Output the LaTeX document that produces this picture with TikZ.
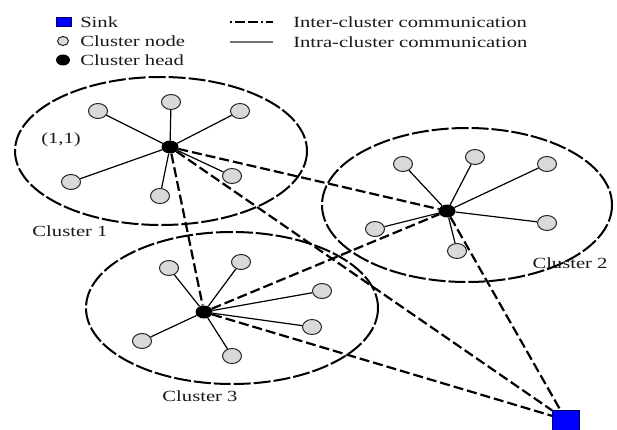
\documentclass[tikz,border=0pt]{standalone}
\usepackage{fontspec}
\setmainfont{Liberation Serif}
\usetikzlibrary{shapes.geometric}
\begin{document}
\begin{tikzpicture}[x=1pt, y=-1pt,
  every node/.style={font=\fontsize{15.5}{18}\selectfont},
  txt/.style={xscale=1.33, inner sep=0, text=black!90},
  member/.style={ellipse, draw=black!85, fill=black!15, line width=1pt, minimum width=19, minimum height=15, inner sep=0},
  head/.style={ellipse, fill=black, minimum width=17, minimum height=13, inner sep=0},
  sink/.style={rectangle, fill=blue, draw=blue!40!black, line width=0.8pt, minimum width=27, minimum height=20, inner sep=0},
  intra/.style={line width=1.2pt},
  inter/.style={line width=2.2pt, dash pattern=on 10pt off 4pt},
  border/.style={line width=2pt, dash pattern=on 17pt off 3pt}]
\useasboundingbox (0,0) rectangle (617,430);
% legend
\node[sink, minimum width=15, minimum height=9] (lsink) at (64,22) {};
\node[txt, anchor=west] (tsink) at (80,22) {Sink};
\node[member, minimum width=11, minimum height=9] (lmem) at (63,41) {};
\node[txt, anchor=west] (tmem) at (80,41) {Cluster node};
\node[head, minimum width=14, minimum height=11] (lhead) at (63,60) {};
\node[txt, anchor=west] (thead) at (80,60) {Cluster head};
\coordinate (la) at (230,22);
\coordinate (lb) at (273,22);
\draw[inter, dash pattern=on 2pt off 3pt on 10pt off 3pt on 10pt off 3pt] (la) -- (lb);
\node[txt, anchor=west] (tinter) at (293,22) {Inter-cluster communication};
\coordinate (lc) at (230,42);
\coordinate (ld) at (273,42);
\draw[line width=1.5pt, black!55] (lc) -- (ld);
\node[txt, anchor=west] (tintra) at (293,42) {Intra-cluster communication};
% clusters
\draw[border] (161,151) ellipse [x radius=146, y radius=74];
\draw[border] (467,205) ellipse [x radius=145, y radius=77];
\draw[border] (232,308) ellipse [x radius=146, y radius=76];
\node[txt] (c11) at (61,140) {(1,1)};
\node[txt] (lab1) at (70,231) {Cluster 1};
\node[txt] (lab2) at (570,263) {Cluster 2};
\node[txt] (lab3) at (200,396) {Cluster 3};
% heads and members
\node[head] (h1) at (170,147) {};
\node[head] (h2) at (447,211) {};
\node[head] (h3) at (204,312) {};
\foreach \n/\x/\y in {1/98/111, 2/171/102, 3/240/111, 4/71/182, 5/160/196, 6/232/176}
  \node[member] (ma\n) at (\x,\y) {};
\foreach \n/\x/\y in {1/403/164, 2/475/157, 3/547/164, 4/547/223, 5/457/251, 6/375/229}
  \node[member] (mb\n) at (\x,\y) {};
\foreach \n/\x/\y in {1/169/268, 2/241/262, 3/322/291, 4/312/327, 5/232/356, 6/142/341}
  \node[member] (mc\n) at (\x,\y) {};
\node[sink] (sk) at (566,420) {};
% intra-cluster
\foreach \n in {1,...,6} {
  \draw[intra] (h1) -- (ma\n);
  \draw[intra] (h2) -- (mb\n);
  \draw[intra] (h3) -- (mc\n);
}
% inter-cluster
\draw[inter] (h1) -- (h2);
\draw[inter] (h1) -- (h3);
\draw[inter] (h3) -- (h2);
\draw[inter] (h1) -- (sk);
\draw[inter] (h2) -- (sk);
\draw[inter] (h3) -- (sk);
\end{tikzpicture}
\end{document}
